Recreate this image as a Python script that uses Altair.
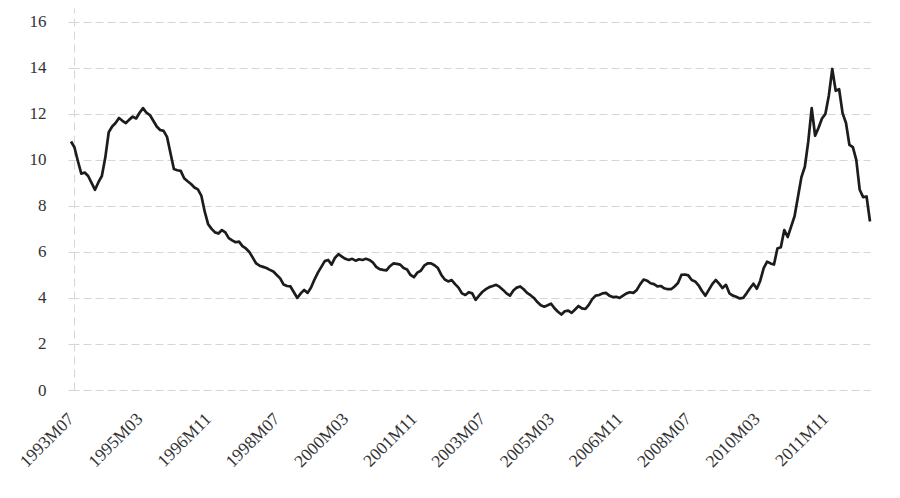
import altair as alt
import pandas as pd

# Monthly series, 1993M07 .. 2012M12
vals_1993_1996 = [10.8, 10.55, 9.95, 9.4, 9.45, 9.3, 9.0, 8.7, 9.03, 9.3,
                  10.1, 11.2, 11.45, 11.6, 11.82, 11.7, 11.6, 11.75, 11.88, 11.8,
                  12.05, 12.25, 12.05, 11.95, 11.7, 11.45, 11.3, 11.26, 11.0, 10.3,
                  9.6, 9.55, 9.52, 9.2, 9.07, 8.95, 8.8, 8.72, 8.45, 7.75, 7.2]
vals_1996_1998 = [7.0, 6.85, 6.8, 6.95, 6.85, 6.6, 6.5, 6.42, 6.45, 6.25,
                  6.15, 6.0, 5.75, 5.5, 5.4, 5.35, 5.3, 5.22, 5.15]
vals_1998_2000 = [5.0, 4.85, 4.58, 4.52, 4.5, 4.25, 4.0, 4.2, 4.35, 4.22,
                  4.45, 4.8, 5.1, 5.35, 5.6, 5.65, 5.45, 5.75, 5.9]
vals_2000_2003 = [5.8, 5.7, 5.65, 5.7, 5.62, 5.68, 5.65, 5.7, 5.65, 5.55,
                  5.35, 5.25, 5.22, 5.2, 5.38, 5.5, 5.48, 5.45, 5.3, 5.24,
                  5.0, 4.9, 5.1, 5.18, 5.4, 5.5, 5.5, 5.42, 5.3, 5.0,
                  4.8, 4.72, 4.78, 4.6, 4.45, 4.2, 4.13, 4.25, 4.2, 3.92]
vals_2003_2006 = [4.1, 4.27, 4.38, 4.47, 4.52, 4.57, 4.48, 4.35, 4.2, 4.1,
                  4.32, 4.45, 4.5, 4.38, 4.22, 4.12, 4.0, 3.82, 3.68, 3.62,
                  3.68, 3.75, 3.55, 3.4, 3.28, 3.42, 3.45, 3.35, 3.5, 3.65,
                  3.55, 3.52, 3.7, 3.95, 4.1, 4.13, 4.2, 4.22, 4.1, 4.04,
                  4.05, 4.0]
vals_2006_2010 = [4.1, 4.2, 4.25, 4.22, 4.35, 4.6, 4.8, 4.75, 4.64, 4.6,
                  4.5, 4.52, 4.42, 4.38, 4.38, 4.5, 4.65, 5.0, 5.02, 4.98,
                  4.78, 4.72, 4.55, 4.3, 4.1, 4.35, 4.6, 4.78, 4.62, 4.43,
                  4.57, 4.2, 4.1, 4.05, 3.98, 4.0, 4.2, 4.42, 4.62, 4.4]
vals_2010_2012 = [4.75, 5.3, 5.58, 5.5, 5.45, 6.15, 6.2, 6.95, 6.65, 7.1,
                  7.55, 8.4, 9.25, 9.7, 10.8, 12.25, 11.05, 11.4, 11.8, 12.0,
                  12.8, 13.95, 13.0, 13.07, 12.03, 11.6, 10.65, 10.55, 10.0, 8.7,
                  8.38, 8.41, 7.32]

values = (vals_1993_1996 + vals_1996_1998 + vals_1998_2000 + vals_2000_2003
          + vals_2003_2006 + vals_2006_2010 + vals_2010_2012)

months = []
yr, mo = 1993, 7
for _ in values:
    months.append(f"{yr}M{mo:02d}")
    mo += 1
    if mo > 12:
        mo = 1
        yr += 1

x_tick_labels = ["1993M07", "1995M03", "1996M11", "1998M07", "2000M03", "2001M11",
                 "2003M07", "2005M03", "2006M11", "2008M07", "2010M03", "2011M11"]
y_ticks = [0, 2, 4, 6, 8, 10, 12, 14, 16]

df = pd.DataFrame({"month": months, "value": values})

FONT = "Liberation Serif"
GRID = "#d6d6d6"

chart = alt.Chart(df).mark_line(
    color="#1c1c1c", strokeWidth=2.7, strokeJoin="round"
).encode(
    x=alt.X(
        "month:O", sort=None,
        scale=alt.Scale(type="point", padding=0),
        axis=alt.Axis(
            values=x_tick_labels, labelAngle=315, labelAlign="right",
            labelBaseline="middle", labelPadding=26, ticks=False, tickSize=0,
            domain=False, grid=False, title=None, labelFont=FONT,
            labelFontSize=17.5, labelColor="#333333",
        ),
    ),
    y=alt.Y(
        "value:Q",
        scale=alt.Scale(domain=[0, 16.6], nice=False, zero=True),
        axis=alt.Axis(
            values=y_ticks, title=None, grid=True, gridDash=[8, 4],
            gridColor=GRID, gridWidth=1, domain=True, domainDash=[8, 5],
            domainColor=GRID, domainWidth=1, ticks=True, tickSize=6,
            tickColor=GRID, offset=-3, labelPadding=22, labelFont=FONT,
            labelFontSize=17, labelColor="#333333",
        ),
    ),
).properties(
    width=799, height=382,
    autosize=alt.AutoSizeParams(type="none"),
    padding={"left": 63, "top": 0, "right": 22, "bottom": 100},
).configure_view(stroke=None)

chart.save("out.html", embed_options={"renderer": "svg", "actions": False})
